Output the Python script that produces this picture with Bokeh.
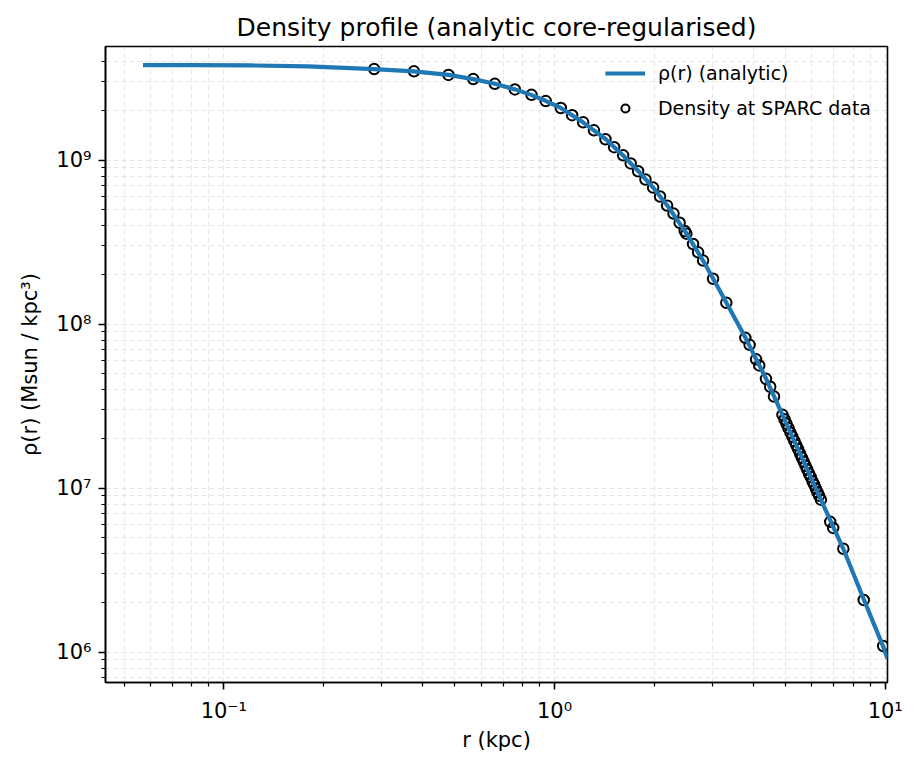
from bokeh.plotting import figure
from bokeh.models import Range1d, FixedTicker, Legend, LegendItem
from bokeh.embed import file_html
from bokeh.resources import INLINE

# ---- data ----
r_line = [0.057, 0.08, 0.12, 0.18, 0.285, 0.376, 0.478, 0.568, 0.66, 0.76, 0.85, 0.94,
          1.045, 1.22, 1.43, 1.61, 1.80, 1.99, 2.21, 2.48, 2.81, 3.02, 3.31, 3.78,
          4.36, 4.89, 5.60, 6.39, 7.47, 8.61, 9.86, 10.16]
rho_line = [3.80e9, 3.80e9, 3.78e9, 3.73e9, 3.59e9, 3.48e9, 3.31e9, 3.12e9, 2.92e9,
            2.70e9, 2.50e9, 2.30e9, 2.08e9, 1.70e9, 1.34e9, 1.07e9, 8.50e8, 6.78e8,
            5.18e8, 3.69e8, 2.45e8, 1.89e8, 1.35e8, 8.25e7, 4.66e7, 2.80e7, 1.53e7,
            8.5e6, 4.27e6, 2.10e6, 1.08e6, 9.1e5]

r_data = [0.285, 0.376, 0.478, 0.568, 0.660, 0.759, 0.852, 0.941, 1.045, 1.131, 1.221,
          1.316, 1.426, 1.515, 1.613, 1.700, 1.790, 1.884, 1.987, 2.085, 2.190, 2.290,
          2.390, 2.476, 2.505, 2.624, 2.718, 2.814, 3.016, 3.308, 3.776, 3.890, 4.070,
          4.160, 4.360, 4.490, 4.610,
          4.89, 4.96, 5.03, 5.10, 5.17, 5.24, 5.31, 5.38, 5.45, 5.53, 5.60, 5.67, 5.74,
          5.81, 5.88, 5.95, 6.03, 6.10, 6.17, 6.24, 6.31, 6.39,
          6.82, 6.96, 7.47, 8.61, 9.86]
rho_data = [3.59e9, 3.48e9, 3.31e9, 3.12e9, 2.92e9, 2.70e9, 2.50e9, 2.29e9, 2.08e9,
            1.88e9, 1.70e9, 1.52e9, 1.34e9, 1.20e9, 1.07e9, 9.55e8, 8.55e8, 7.62e8,
            6.80e8, 6.00e8, 5.28e8, 4.72e8, 4.15e8, 3.70e8, 3.56e8, 3.08e8, 2.74e8,
            2.44e8, 1.89e8, 1.35e8, 8.25e7, 7.48e7, 6.10e7, 5.60e7, 4.64e7, 4.15e7,
            3.62e7,
            2.80e7, 2.63e7, 2.47e7, 2.32e7, 2.18e7, 2.06e7, 1.94e7, 1.83e7, 1.73e7,
            1.62e7, 1.53e7, 1.45e7, 1.37e7, 1.30e7, 1.23e7, 1.17e7, 1.10e7, 1.05e7,
            9.94e6, 9.45e6, 9.00e6, 8.51e6,
            6.23e6, 5.72e6, 4.27e6, 2.08e6, 1.09e6]

x_ticks = [0.1, 1.0, 10.0]
x_tick_labels = ["10\u207b\u00b9", "10\u2070", "10\u00b9"]
y_ticks = [1e6, 1e7, 1e8, 1e9]
y_tick_labels = ["10\u2076", "10\u2077", "10\u2078", "10\u2079"]

title_text = "Density profile (analytic core-regularised)"
x_label = "r (kpc)"
y_label = "\u03c1(r) (Msun / kpc\u00b3)"
line_label = "\u03c1(r) (analytic)"
data_label = "Density at SPARC data"

FONT = "DejaVu Sans"
GRID = "#b0b0b0"

p = figure(width=917, height=767, x_axis_type="log", y_axis_type="log",
           x_range=Range1d(0.0439, 10.16), y_range=Range1d(6.53e5, 4.93e9),
           output_backend="svg", toolbar_location=None,
           min_border_left=105, min_border_right=30, min_border_top=46,
           min_border_bottom=85, title=title_text)

p.background_fill_color = "white"
p.border_fill_color = "white"
p.outline_line_color = "black"
p.outline_line_width = 1.6

p.title.text_font = FONT
p.title.text_font_size = "25px"
p.title.text_font_style = "normal"
p.title.align = "center"
p.title.text_color = "black"
p.title.standoff = 9

minor_x = [0.05, 0.06, 0.07, 0.08, 0.09] + [k / 10 for k in range(2, 10)] + [float(k) for k in range(2, 10)]
minor_y = [7e5, 8e5, 9e5] + [k * 1e6 for k in range(2, 10)] + [k * 1e7 for k in range(2, 10)] \
          + [k * 1e8 for k in range(2, 10)] + [2e9, 3e9, 4e9]
xt = FixedTicker(ticks=x_ticks, minor_ticks=minor_x)
yt = FixedTicker(ticks=y_ticks, minor_ticks=minor_y)
p.xaxis.ticker = xt
p.yaxis.ticker = yt
p.xgrid.ticker = xt
p.ygrid.ticker = yt
p.xaxis.major_label_overrides = dict(zip(x_ticks, x_tick_labels))
p.yaxis.major_label_overrides = dict(zip(y_ticks, y_tick_labels))

for ax in (p.xaxis, p.yaxis):
    ax.axis_line_color = "black"
    ax.axis_line_width = 1.6
    ax.major_tick_line_color = "black"
    ax.major_tick_line_width = 1.6
    ax.minor_tick_line_color = "black"
    ax.minor_tick_line_width = 1.2
    ax.major_tick_out = 7
    ax.major_tick_in = 0
    ax.minor_tick_out = 4
    ax.minor_tick_in = 0
    ax.major_label_text_font = FONT
    ax.major_label_text_font_size = "21px"
    ax.major_label_text_color = "black"
    ax.axis_label_text_font = FONT
    ax.axis_label_text_font_size = "21px"
    ax.axis_label_text_font_style = "normal"
    ax.axis_label_text_color = "black"

p.xaxis.major_label_standoff = 9
p.xaxis.axis_label_standoff = 2
p.yaxis.major_label_standoff = 7
p.yaxis.axis_label_standoff = 11

p.xaxis.axis_label = x_label
p.yaxis.axis_label = y_label

for g in (p.xgrid, p.ygrid):
    g.grid_line_color = GRID
    g.grid_line_alpha = 0.3
    g.grid_line_dash = "5 3"
    g.grid_line_width = 1
    g.minor_grid_line_color = GRID
    g.minor_grid_line_alpha = 0.3
    g.minor_grid_line_dash = "5 3"
    g.minor_grid_line_width = 1

sc = p.scatter(r_data, rho_data, marker="circle", size=10.5, fill_color=None,
               line_color="black", line_width=2)
ln = p.line(r_line, rho_line, line_color="#1f77b4", line_width=4.2)

legend = Legend(items=[LegendItem(label=line_label, renderers=[ln]),
                       LegendItem(label=data_label, renderers=[sc])],
                location="top_right")
legend.border_line_alpha = 0
legend.background_fill_alpha = 0
legend.label_text_font = FONT
legend.label_text_font_size = "19px"
legend.label_text_color = "black"
legend.glyph_width = 40
legend.glyph_height = 20
legend.label_height = 20
legend.label_standoff = 13
legend.spacing = 13
legend.padding = 8
legend.margin = 8
p.add_layout(legend)

open("out.html", "w").write(file_html(p, INLINE))
